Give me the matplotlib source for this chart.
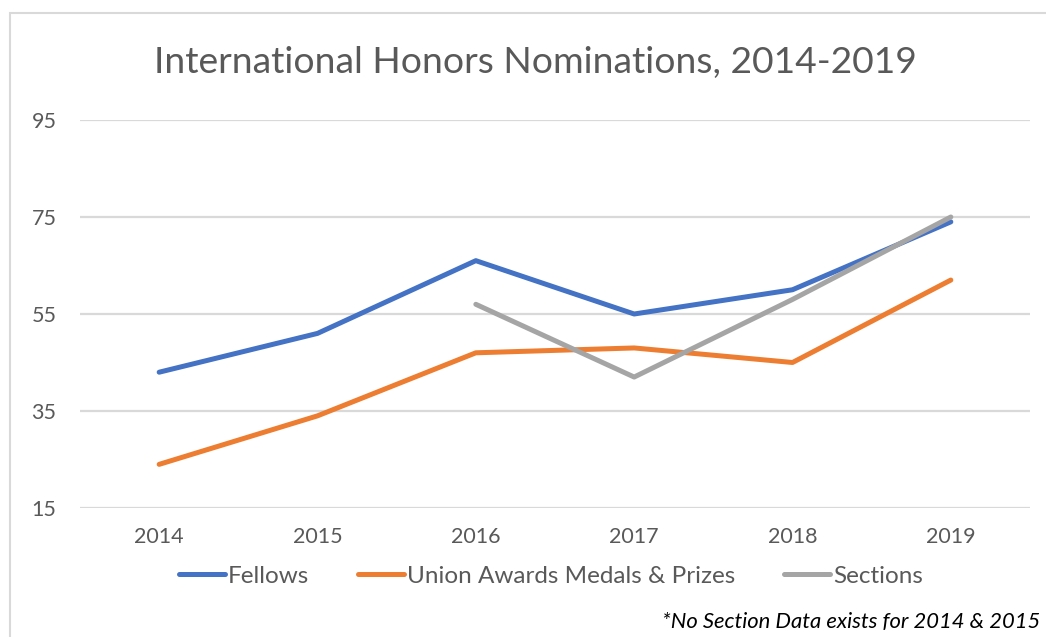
import numpy as np
import matplotlib.pyplot as plt
from matplotlib.patches import Rectangle

plt.rcParams['font.family'] = ['Lato', 'DejaVu Sans']

years = ['2014', '2015', '2016', '2017', '2018', '2019']
fellows = [43, 51, 66, 55, 60, 74]
union_awards = [24, 34, 47, 48, 45, 62]
sections = [np.nan, np.nan, 57, 42, 58, 75]
y_ticks = [15, 35, 55, 75, 95]

text_color = '#595959'

fig = plt.figure(figsize=(10.46, 6.37), dpi=100)
ax = fig.add_axes([80 / 1046, 1 - 508 / 637, 950 / 1046, 388 / 637])

x = np.arange(len(years))
ax.plot(x, fellows, color='#4472C4', lw=3.6, solid_capstyle='round', label='Fellows')
ax.plot(x, union_awards, color='#ED7D31', lw=3.6, solid_capstyle='round', label='Union Awards Medals & Prizes')
ax.plot(x, sections, color='#A5A5A5', lw=3.6, solid_capstyle='round', label='Sections')

ax.set_xlim(-0.5, len(years) - 0.5)
ax.set_ylim(15, 95)
ax.set_xticks(x)
ax.set_xticklabels(years)
ax.set_yticks(y_ticks)
ax.grid(axis='y', color='#d9d9d9', lw=1.6)
ax.set_axisbelow(True)
for s in ax.spines.values():
    s.set_visible(False)
ax.tick_params(length=0, labelsize=15.5, colors=text_color)
ax.tick_params(axis='x', pad=14)
ax.tick_params(axis='y', pad=17)

fig.text(535 / 1046, 1 - 62 / 637, 'International Honors Nominations, 2014-2019',
         ha='center', va='center', fontsize=26.8, color=text_color)

fig.legend(loc='center', bbox_to_anchor=(551 / 1046, 1 - 576 / 637), ncol=3, frameon=False,
           fontsize=17.5, labelcolor=text_color, handlelength=1.9, handletextpad=0.12,
           columnspacing=2.0)

fig.text(1040 / 1046, 1 - 622 / 637, '*No Section Data exists for 2014 & 2015',
         ha='right', va='center', fontsize=15.8, style='italic', color='black')

fig.patches.append(Rectangle((10 / 1046, -0.1), 1.1, 1 - 13 / 637 + 0.1, transform=fig.transFigure,
                             fill=False, edgecolor='#d9d9d9', lw=1.5))

fig.savefig('out.png', dpi=100)
